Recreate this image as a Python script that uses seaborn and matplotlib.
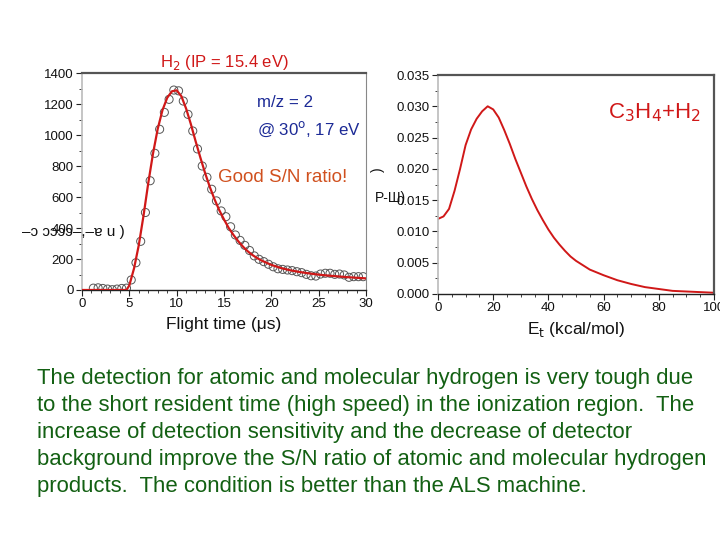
import numpy as np
import pandas as pd
import matplotlib
matplotlib.use("Agg")
import matplotlib.pyplot as plt
import seaborn as sns
from matplotlib.ticker import MultipleLocator

sns.set_theme(style="white")
plt.rcParams['font.family'] = ['Liberation Sans', 'DejaVu Sans']

# ---- data: TOF spectrum of H2 (m/z = 2) ----
tof_time = [1.2, 1.7, 2.2, 2.7, 3.2, 3.7, 4.2, 4.7, 5.2, 5.7, 6.2, 6.7, 7.2, 7.7, 8.2, 8.7,
            9.2, 9.7, 10.2, 10.7, 11.2, 11.7, 12.2, 12.7, 13.2, 13.7, 14.2, 14.7, 15.2,
            15.7, 16.2, 16.7, 17.2, 17.7, 18.2, 18.7, 19.2, 19.7, 20.2, 20.7, 21.2, 21.7,
            22.2, 22.7, 23.2, 23.7, 24.2, 24.7, 25.2, 25.7, 26.2, 26.7, 27.2, 27.7, 28.2,
            28.7, 29.2, 29.7]
tof_signal = [12, 14, 10, 6, 2, 6, 10, 12, 65, 176, 314, 500, 705, 882, 1037, 1146,
              1230, 1290, 1285, 1219, 1133, 1026, 910, 800, 727, 650, 575, 510, 473,
              408, 355, 320, 288, 255, 220, 198, 183, 166, 150, 137, 133, 129,
              125, 118, 112, 101, 92, 90, 103, 108, 108, 101, 103, 97,
              82, 86, 86, 86]

fit_time = [0, 1, 2, 3, 4, 4.7, 5.0, 5.5, 6.0, 6.5, 7.0, 7.5, 8.0, 8.5, 9.0, 9.5, 10.0,
            10.5, 11.0, 11.5, 12.0, 12.5, 13.0, 13.5, 14.0, 14.5, 15.0, 15.5, 16.0, 16.5,
            17.0, 17.5, 18.0, 18.5, 19.0, 20.0, 21.0, 22.0, 23.0, 24.0, 25.0, 26.0, 27.0,
            28.0, 29.0, 30.0]
fit_signal = [0, 0, 0, 0, 0, 0, 30, 140, 290, 480, 690, 880, 1040, 1160, 1240, 1282, 1288,
              1250, 1170, 1070, 960, 855, 755, 665, 585, 515, 455, 400, 355, 315,
              280, 250, 226, 206, 189, 162, 142, 127, 116, 107, 99, 93, 88,
              83, 79, 75]

# ---- data: translational energy distribution ----
et_energy = [0, 2, 4, 6, 8, 10, 12, 14, 16, 18, 20, 22, 24, 26, 28, 30, 32, 34, 36, 38, 40,
             42, 44, 46, 48, 50, 55, 60, 65, 70, 75, 80, 85, 90, 95, 100]
et_prob = [0.0120, 0.0124, 0.0136, 0.0165, 0.0200, 0.0238, 0.0263, 0.0280, 0.0292, 0.0300,
           0.0295, 0.0282, 0.0262, 0.0240, 0.0216, 0.0194, 0.0172, 0.0152, 0.0134, 0.0118,
           0.0103, 0.0090, 0.0079, 0.0069, 0.0060, 0.0053, 0.0039, 0.0030, 0.0022, 0.0016,
           0.0011, 0.0008, 0.0005, 0.0004, 0.0003, 0.0002]

tof_df = pd.DataFrame({"t": tof_time, "s": tof_signal})
fit_df = pd.DataFrame({"t": fit_time, "s": fit_signal})
et_df = pd.DataFrame({"e": et_energy, "p": et_prob})

fig = plt.figure(figsize=(7.2, 5.4), dpi=100)
fig.patch.set_facecolor("white")

red = "#d01818"

def style_axes(ax):
    ax.set_facecolor("white")
    for s in ["top", "right"]:
        ax.spines[s].set_color("#555555")
        ax.spines[s].set_linewidth(1.6)
    ax.spines["left"].set_color("#bbbbbb")
    ax.spines["left"].set_linewidth(1.2)
    ax.spines["bottom"].set_color("#222222")
    ax.spines["bottom"].set_linewidth(1.0)
    ax.tick_params(which="major", direction="out", length=4, width=0.8, color="#222222",
                   labelsize=9.5, pad=2, bottom=True, left=True, labelcolor="#111111")
    ax.tick_params(which="minor", direction="out", length=2, width=0.6, color="#222222",
                   bottom=True, left=True)

# ---- left panel ----
ax1 = fig.add_axes([82/720, 1-290/540, (366-82)/720, (290-73)/540])
sns.scatterplot(data=tof_df, x="t", y="s", ax=ax1, marker="o", s=34,
                facecolors="none", edgecolor="#555555", linewidth=0.7, zorder=2)
sns.lineplot(data=fit_df, x="t", y="s", ax=ax1, color=red, linewidth=1.6, zorder=3)
ax1.set_xlim(0, 30)
ax1.set_ylim(0, 1400)
ax1.xaxis.set_major_locator(MultipleLocator(5))
ax1.xaxis.set_minor_locator(MultipleLocator(1))
ax1.yaxis.set_major_locator(MultipleLocator(200))
ax1.yaxis.set_minor_locator(MultipleLocator(100))
style_axes(ax1)
ax1.spines["right"].set_linewidth(0.8)
ax1.spines["right"].set_color("#888888")
ax1.set_xlabel("Flight time (\u03bcs)", fontsize=12.5, labelpad=5, color="#111111")
ax1.set_ylabel("")
ax1.set_title("H$_2$ (IP = 15.4 eV)", color=red, fontsize=12, pad=4)
ax1.text(0.615, 0.862, "m/z = 2", transform=ax1.transAxes, color="#1c2a96",
         fontsize=12.2, va="center")
ax1.text(0.615, 0.742, "@ 30$^{\\rm o}$, 17 eV", transform=ax1.transAxes, color="#1c2a96",
         fontsize=12.2, va="center")
ax1.text(0.48, 0.52, "Good S/N ratio!", transform=ax1.transAxes, color="#d0501e",
         fontsize=13.5, va="center")
fig.text(22/720, 1-232/540, "\u2013\u0254 \u0254\u0254\u0254\u0254\u2013,\u2013\u0250 u )",
         fontsize=11, color="#111111", va="center", ha="left")

# ---- right panel ----
ax2 = fig.add_axes([438/720, 1-294/540, (714-438)/720, (294-75)/540])
sns.lineplot(data=et_df, x="e", y="p", ax=ax2, color=red, linewidth=1.4)
ax2.set_xlim(0, 100)
ax2.set_ylim(0, 0.035)
ax2.xaxis.set_major_locator(MultipleLocator(20))
ax2.xaxis.set_minor_locator(MultipleLocator(5))
ax2.yaxis.set_major_locator(MultipleLocator(0.005))
ax2.yaxis.set_minor_locator(MultipleLocator(0.0025))
ax2.yaxis.set_major_formatter(matplotlib.ticker.FormatStrFormatter("%.3f"))
style_axes(ax2)
ax2.set_xlabel("E$_{\\rm t}$ (kcal/mol)", fontsize=12.5, labelpad=4, color="#111111")
ax2.set_ylabel("")
ax2.text(0.615, 0.83, "C$_3$H$_4$+H$_2$", transform=ax2.transAxes, color=red,
         fontsize=16, va="center")
fig.text(378/720, 1-170/540, ")", fontsize=10, color="#111111", rotation=90,
         va="center", ha="center")
fig.text(375/720, 1-198/540, "P-\u0428)", fontsize=10, color="#111111",
         va="center", ha="left")

# ---- paragraph ----
para = ("The detection for atomic and molecular hydrogen is very tough due\n"
        "to the short resident time (high speed) in the ionization region.  The\n"
        "increase of detection sensitivity and the decrease of detector\n"
        "background improve the S/N ratio of atomic and molecular hydrogen\n"
        "products.  The condition is better than the ALS machine.")
fig.text(37/720, 1-368/540, para, fontsize=15.9, color="#136013", va="top", ha="left",
         linespacing=1.38)

fig.savefig("out.png", dpi=100)
